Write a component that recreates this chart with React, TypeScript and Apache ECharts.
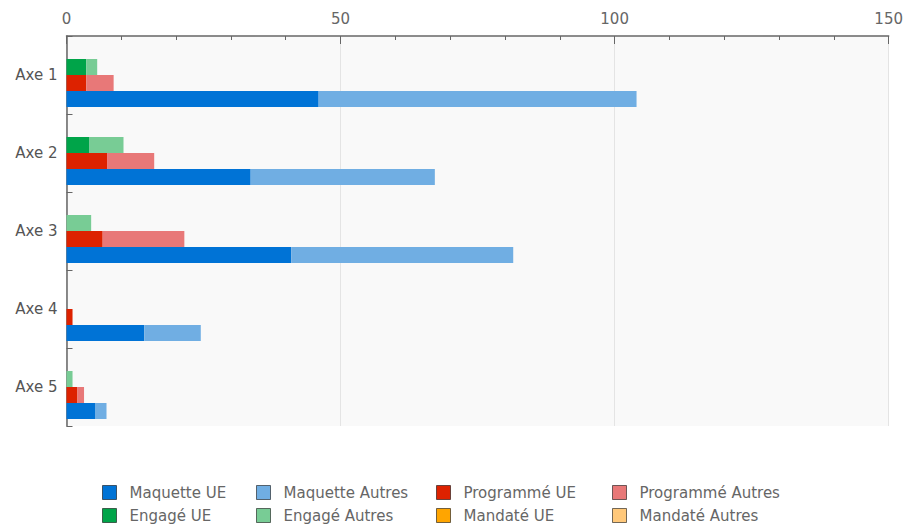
import React, { useEffect, useRef } from "react";
import * as echarts from "echarts";

const categories = ["Axe 1", "Axe 2", "Axe 3", "Axe 4", "Axe 5"];
const maquetteUE = [46, 33.6, 41, 14.2, 5.3];
const maquetteAutres = [58, 33.6, 40.5, 10.3, 2];
const programmeUE = [3.6, 7.4, 6.6, 1.1, 2];
const programmeAutres = [5, 8.6, 14.9, 0, 1.2];
const engageUE = [3.6, 4.2, 0, 0, 0];
const engageAutres = [2, 6.2, 4.5, 0, 1.1];
const mandateUE = [0, 0, 0, 0, 0];
const mandateAutres = [0, 0, 0, 0, 0];
const xTicks = [0, 50, 100, 150];

const FONT = "DejaVu Sans";

export default function App() {
  const ref = useRef<HTMLDivElement>(null);
  useEffect(() => {
    if (!ref.current) return;
    const chart = echarts.init(ref.current, null, { renderer: "svg" });
    const mk = (name: string, stack: string, data: number[], color: string) => ({
      name,
      type: "bar",
      stack,
      data,
      barWidth: 16,
      barGap: "0%",
      itemStyle: { color },
    });
    const series = [
      mk("Mandaté UE", "mandate", mandateUE, "#ffa500"),
      mk("Mandaté Autres", "mandate", mandateAutres, "#ffc87a"),
      mk("Engagé UE", "engage", engageUE, "#00a449"),
      mk("Engagé Autres", "engage", engageAutres, "#78cc95"),
      mk("Programmé UE", "programme", programmeUE, "#dd2200"),
      mk("Programmé Autres", "programme", programmeAutres, "#e87878"),
      mk("Maquette UE", "maquette", maquetteUE, "#0073d6"),
      mk("Maquette Autres", "maquette", maquetteAutres, "#70aee3"),
    ];
    const legendCol = (left: number, names: string[]) => ({
      orient: "vertical",
      left,
      top: 485,
      height: 80,
      padding: 0,
      itemWidth: 14,
      itemHeight: 14,
      itemGap: 8,
      icon: "rect",
      data: names,
      itemStyle: { borderColor: "rgba(0,0,0,0.55)", borderWidth: 1 },
      textStyle: { fontFamily: FONT, fontSize: 15, color: "#666", padding: [0, 0, 0, 8] },
      selectedMode: false,
    });
    chart.setOption({
      animation: false,
      backgroundColor: "#ffffff",
      grid: {
        left: 66.5,
        right: 12,
        top: 36,
        height: 390,
        show: true,
        backgroundColor: "#f9f9f9",
        borderWidth: 0,
      },
      legend: [
        legendCol(102, ["Maquette UE", "Engagé UE"]),
        legendCol(256, ["Maquette Autres", "Engagé Autres"]),
        legendCol(436, ["Programmé UE", "Mandaté UE"]),
        legendCol(612, ["Programmé Autres", "Mandaté Autres"]),
      ],
      xAxis: {
        type: "value",
        position: "top",
        min: xTicks[0],
        max: xTicks[xTicks.length - 1],
        interval: 50,
        axisLine: { show: true, lineStyle: { color: "#666", width: 1.5 } },
        axisTick: { show: true, inside: true, length: 8, lineStyle: { color: "#666" } },
        minorTick: { show: true, splitNumber: 5, length: 4, lineStyle: { color: "#666" } },
        splitLine: { show: true, lineStyle: { color: "#e4e4e4" } },
        axisLabel: { fontFamily: FONT, fontSize: 15, color: "#666", margin: 10 },
      },
      yAxis: {
        type: "category",
        data: categories,
        inverse: true,
        axisLine: { show: true, lineStyle: { color: "#666", width: 1.5 } },
        axisTick: { show: true, inside: true, length: 6, lineStyle: { color: "#666" } },
        axisLabel: { fontFamily: FONT, fontSize: 15, color: "#555", margin: 9 },
      },
      series,
    });
    return () => chart.dispose();
  }, []);
  return <div ref={ref} style={{ width: 906, height: 524, position: "absolute", left: 0, top: 0 }} />;
}
